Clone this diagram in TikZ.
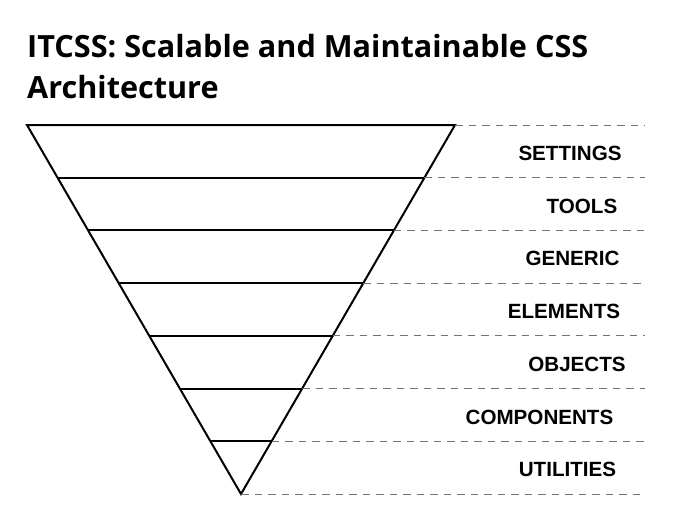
\documentclass[tikz,border=0pt]{standalone}
\usepackage{fontspec}
\setmainfont{Liberation Sans}
\newfontfamily\titlefont{Open Sans}
\usetikzlibrary{calc}

\begin{document}
\begin{tikzpicture}[
    x=1pt, y=-1pt,
    layer/.style={draw, line width=2pt, line join=miter},
    guide/.style={draw=gray!90!black, line width=1pt, dash pattern=on 7.5pt off 6pt},
    tag/.style={font=\fontsize{20.6}{24}\selectfont\bfseries, inner sep=0pt},
    heading/.style={font=\titlefont\fontsize{30.6}{36}\selectfont\bfseries, anchor=base west, inner sep=0pt}
]
\useasboundingbox (0,0) rectangle (694,512);

% Heading
\node[heading] (title1) at (27,57) {ITCSS: Scalable and Maintainable CSS};
\node[heading] (title2) at (27,98) {Architecture};

% Funnel outline
\coordinate (topL) at (27,125);
\coordinate (topR) at (455,125);
\coordinate (apex) at (241,494);
\draw[layer] (topL) -- (topR) -- (apex) -- cycle;

% Layer edges and dashed guides
\coordinate (guideEnd) at (645,0);
\foreach \k in {0,...,7} {
  \coordinate (l\k) at ($(topL)!\k/7!(apex)$);
  \coordinate (r\k) at ($(topR)!\k/7!(apex)$);
  \draw[guide] (r\k) -- (r\k -| guideEnd);
}
\foreach \k in {1,...,6} {
  \draw[layer] (l\k) -- (r\k);
}

% Layer names
\foreach \name/\xc [count=\i] in {SETTINGS/570, TOOLS/582, GENERIC/572.5, ELEMENTS/564,
    OBJECTS/577, COMPONENTS/539.5, UTILITIES/567.5} {
  \node[tag] (tag\i) at (\xc, {125+(\i-0.5)*52.714+2}) {\name};
}

\end{tikzpicture}
\end{document}
